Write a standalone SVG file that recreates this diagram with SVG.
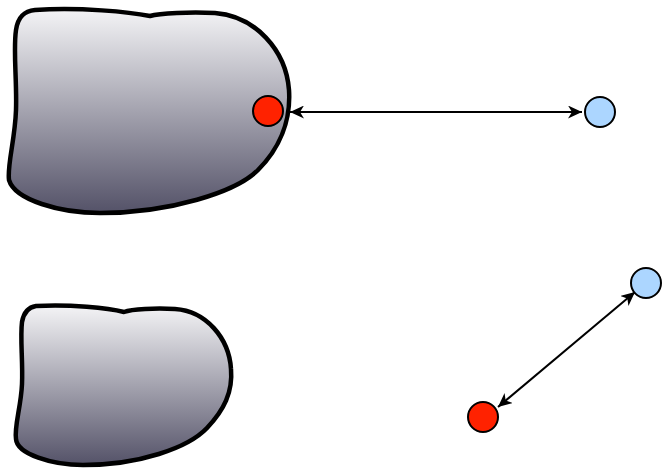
<svg xmlns="http://www.w3.org/2000/svg" width="663" height="471" viewBox="0 0 663 471">
<style>
.blob{stroke:#000;stroke-width:4.5;fill:url(#g);stroke-linejoin:round}
.red{fill:#ff2200;stroke:#000;stroke-width:2}
.blue{fill:#acd6ff;stroke:#000;stroke-width:2}
.conn{stroke:#000;stroke-width:2;fill:none;marker-start:url(#ah);marker-end:url(#ah)}
</style>
<defs>
<linearGradient id="g" x1="0" y1="0" x2="0" y2="1">
<stop offset="0" stop-color="#f4f4f6"/>
<stop offset="1" stop-color="#545268"/>
</linearGradient>
<marker id="ah" markerUnits="userSpaceOnUse" markerWidth="15" markerHeight="13" refX="14" refY="6.5" orient="auto-start-reverse" viewBox="0 0 15 13">
<path d="M0,0 L14,6.5 L0,13 L4,6.5 Z" fill="#000"/>
</marker>
</defs>
<g id="blob-top">
<path class="blob" d="M35,10 C80,7 130,12 150,16 C160,13 190,12 215,13 C255,16 286,50 289,90 C291,120 280,148 258,170 C236,192 170,213 100,213 C60,213 15,200 9,180 C7,165 15,140 16,110 C17,80 13,50 16,30 C18,16 25,11 35,10 Z"/>
</g>
<g id="blob-bottom">
<path class="blob" d="M36,306 C70,304 108,308 124,312 C132,309 155,308 175,309 C206,311 229,338 231,369 C233,392 224,410 207,428 C188,448 139,465 83,465 C52,465 17,454 16,439 C14,427 21,407 22,384 C23,361 20,338 22,322 C24,311 29,307 36,306 Z"/>
</g>
<g id="connectors">
<line class="conn" x1="290" y1="112" x2="582" y2="112"/>
<line class="conn" x1="635" y1="292" x2="498" y2="407"/>
</g>
<g id="port-red-top"><circle class="red" cx="268" cy="111" r="15"/></g>
<g id="port-blue-top"><circle class="blue" cx="600" cy="112" r="15"/></g>
<g id="port-blue-bottom"><circle class="blue" cx="646" cy="283" r="15"/></g>
<g id="port-red-bottom"><circle class="red" cx="483" cy="417" r="15"/></g>
</svg>
